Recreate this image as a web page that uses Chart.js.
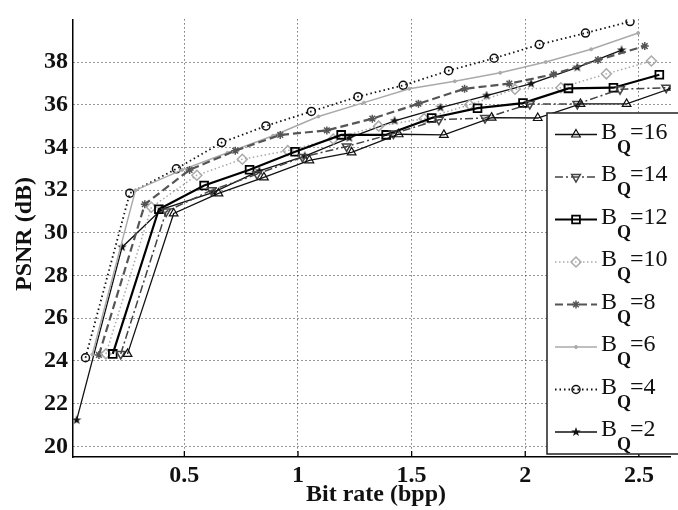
<!DOCTYPE html>
<html>
<head>
<meta charset="utf-8">
<script src="https://cdn.jsdelivr.net/npm/chart.js@4.4.0/dist/chart.umd.min.js"></script>
<style>
  html, body { margin: 0; padding: 0; background: #fff; }
  canvas { display: block; }
</style>
</head>
<body>
<canvas id="psnrChart" width="678" height="510"></canvas>
<script>
// ===== Data =====
const X_TICKS = [0.5, 1, 1.5, 2, 2.5];
const Y_TICKS = [20, 22, 24, 26, 28, 30, 32, 34, 36, 38];
const LEGEND_Q = ['16', '14', '12', '10', '8', '6', '4', '2'];

const bq16X = [0.25, 0.453, 0.65, 0.85, 1.05, 1.236, 1.443, 1.642, 1.852, 2.055, 2.243, 2.446, 2.65];
const bq16Y = [24.33, 30.91, 31.85, 32.6, 33.4, 33.77, 34.62, 34.59, 35.4, 35.38, 36.04, 36.04, 36.8];

const bq14X = [0.22, 0.42, 0.62, 0.82, 1.02, 1.214, 1.42, 1.62, 1.823, 2.02, 2.229, 2.417, 2.62];
const bq14Y = [24.33, 31.0, 32.0, 32.75, 33.55, 34.05, 34.65, 35.3, 35.38, 36.04, 36.04, 36.73, 36.8];

const bq12X = [0.185, 0.388, 0.587, 0.787, 0.987, 1.19, 1.388, 1.588, 1.79, 1.99, 2.19, 2.388, 2.59];
const bq12Y = [24.33, 31.11, 32.22, 32.96, 33.8, 34.59, 34.59, 35.38, 35.84, 36.08, 36.77, 36.8, 37.41];

const bq10X = [0.155, 0.355, 0.555, 0.755, 0.955, 1.155, 1.355, 1.555, 1.755, 1.955, 2.157, 2.357, 2.555];
const bq10Y = [24.33, 31.2, 32.7, 33.45, 33.85, 34.4, 35.0, 35.35, 36.0, 36.73, 36.8, 37.45, 38.05];

const bq8X = [0.124, 0.326, 0.523, 0.724, 0.922, 1.127, 1.327, 1.53, 1.733, 1.93, 2.125, 2.32, 2.526];
const bq8Y = [24.28, 31.34, 32.95, 33.85, 34.59, 34.8, 35.35, 36.05, 36.75, 36.99, 37.43, 38.1, 38.75];

const bq6X = [0.095, 0.285, 0.49, 0.69, 0.89, 1.09, 1.29, 1.49, 1.69, 1.89, 2.09, 2.29, 2.497];
const bq6Y = [24.3, 32.0, 32.95, 33.75, 34.55, 35.45, 36.1, 36.75, 37.1, 37.5, 38.0, 38.6, 39.36];

const bq4X = [0.065, 0.26, 0.465, 0.664, 0.859, 1.059, 1.264, 1.463, 1.663, 1.863, 2.062, 2.265, 2.461];
const bq4Y = [24.15, 31.86, 33.0, 34.23, 35.01, 35.69, 36.38, 36.91, 37.6, 38.18, 38.82, 39.36, 39.9];

const bq2X = [0.026, 0.226, 0.4, 0.627, 0.83, 1.03, 1.226, 1.425, 1.627, 1.83, 2.026, 2.229, 2.424];
const bq2Y = [21.23, 29.33, 31.1, 31.9, 32.9, 33.6, 34.45, 35.25, 35.87, 36.43, 36.99, 37.75, 38.56];

const SERIF = '"Liberation Serif", "Times New Roman", serif';

// filled five-point star for B_Q=2
function makeStar(size, color) {
    const c = document.createElement('canvas');
    c.width = c.height = size;
    const g = c.getContext('2d');
    g.fillStyle = color;
    g.beginPath();
    for (let i = 0; i < 10; i++) {
        const r = i % 2 ? size * 0.2 : size * 0.5;
        const a = -Math.PI / 2 + i * Math.PI / 5;
        g.lineTo(size / 2 + r * Math.cos(a), size / 2 + r * Math.sin(a));
    }
    g.closePath();
    g.fill();
    return c;
}

function toPoints(xs, ys) {
    return xs.map((x, i) => ({ x: x, y: ys[i] }));
}

const none = 'rgba(0,0,0,0)';
const series = [
    { xs: bq16X, ys: bq16Y, color: '#111', width: 1.3, dash: [], style: 'triangle', radius: 5, rot: 0, fill: none, pw: 1.2 },
    { xs: bq14X, ys: bq14Y, color: '#444', width: 1.5, dash: [8, 3, 2, 3], style: 'triangle', radius: 5, rot: 180, fill: none, pw: 1.5 },
    { xs: bq12X, ys: bq12Y, color: '#000', width: 2.2, dash: [], style: 'rect', radius: 5.5, rot: 0, fill: none, pw: 1.8 },
    { xs: bq10X, ys: bq10Y, color: '#aaa', width: 1.5, dash: [1.5, 2.5], style: 'rectRot', radius: 5, rot: 0, fill: none, pw: 1.5 },
    { xs: bq8X,  ys: bq8Y,  color: '#555', width: 2.2, dash: [8, 4], style: 'star', radius: 4, rot: 0, fill: none, pw: 1.5 },
    { xs: bq6X,  ys: bq6Y,  color: '#aaa', width: 1.5, dash: [], style: 'circle', radius: 1.5, rot: 0, fill: '#aaa', pw: 1 },
    { xs: bq4X,  ys: bq4Y,  color: '#111', width: 1.8, dash: [1.5, 3], style: 'circle', radius: 4, rot: 0, fill: none, pw: 1.5 },
    { xs: bq2X,  ys: bq2Y,  color: '#111', width: 1.3, dash: [], style: makeStar(10, '#111'), radius: 5, rot: 0, fill: '#111', pw: 1 }
];

const datasets = series.map((s, i) => ({
    label: 'B_Q=' + LEGEND_Q[i],
    data: toPoints(s.xs, s.ys),
    showLine: true,
    borderColor: s.color,
    borderWidth: s.width,
    borderDash: s.dash,
    pointStyle: s.style,
    pointRadius: s.radius,
    pointRotation: s.rot,
    pointBackgroundColor: s.fill,
    pointBorderColor: s.color,
    pointBorderWidth: s.pw,
    tension: 0
}));

// axis titles, inward ticks and the boxed legend
const decorPlugin = {
    id: 'decor',
    afterDraw(chart) {
        const ctx = chart.ctx;
        const area = chart.chartArea;
        const xs = chart.scales.x;

        ctx.save();
        ctx.strokeStyle = '#000';
        ctx.lineWidth = 1.3;
        ctx.setLineDash([]);
        X_TICKS.forEach(v => {
            const px = xs.getPixelForValue(v);
            ctx.beginPath();
            ctx.moveTo(px, area.bottom);
            ctx.lineTo(px, area.bottom - 6);
            ctx.stroke();
        });

        ctx.fillStyle = '#111';
        ctx.font = 'bold 24px ' + SERIF;
        ctx.textAlign = 'center';
        ctx.textBaseline = 'middle';
        ctx.fillText('Bit rate (bpp)', 376, 495);
        ctx.save();
        ctx.translate(25, 234);
        ctx.rotate(-Math.PI / 2);
        ctx.fillText('PSNR (dB)', 0, 0);
        ctx.restore();

        // legend box
        const boxL = 547, boxT = 113, boxB = 454;
        ctx.fillStyle = '#fff';
        ctx.fillRect(boxL, boxT, 700 - boxL, boxB - boxT);
        ctx.strokeStyle = '#222';
        ctx.lineWidth = 1.5;
        ctx.strokeRect(boxL, boxT, 700 - boxL, boxB - boxT);

        series.forEach((s, i) => {
            const y = 134.5 + i * 42.5;
            ctx.save();
            ctx.strokeStyle = s.color;
            ctx.lineWidth = s.width;
            ctx.setLineDash(s.dash);
            ctx.beginPath();
            ctx.moveTo(555, y);
            ctx.lineTo(597, y);
            ctx.stroke();
            ctx.setLineDash([]);
            ctx.fillStyle = s.fill;
            ctx.strokeStyle = s.color;
            ctx.lineWidth = s.pw;
            Chart.helpers.drawPoint(ctx, {
                pointStyle: s.style, radius: s.radius, rotation: s.rot, borderWidth: s.pw
            }, 576, y);
            ctx.restore();

            ctx.fillStyle = '#111';
            ctx.textAlign = 'left';
            ctx.textBaseline = 'alphabetic';
            ctx.font = '24px ' + SERIF;
            ctx.fillText('B', 601, y + 4);
            const bw = ctx.measureText('B').width;
            ctx.font = 'bold 18px ' + SERIF;
            ctx.fillText('Q', 601 + bw, y + 18);
            const qw = ctx.measureText('Q').width;
            ctx.font = '24px ' + SERIF;
            ctx.fillText('=' + LEGEND_Q[i], 601 + bw + qw - 1, y + 4);
        });
        ctx.restore();
    }
};

new Chart(document.getElementById('psnrChart').getContext('2d'), {
    type: 'scatter',
    data: { datasets: datasets },
    options: {
        responsive: false,
        animation: false,
        layout: { padding: { top: 10, right: 0, left: 0, bottom: 0 } },
        plugins: {
            legend: { display: false },
            tooltip: { enabled: false }
        },
        scales: {
            x: {
                type: 'linear',
                min: 0.01,
                max: 2.64,
                afterBuildTicks: scale => { scale.ticks = X_TICKS.map(v => ({ value: v })); },
                afterFit: scale => { scale.height = 53; },
                grid: { color: '#333', lineWidth: 1, drawTicks: false },
                border: { display: true, color: '#000', width: 1.5, dash: [1, 3] },
                ticks: {
                    color: '#111',
                    padding: 4,
                    maxRotation: 0,
                    font: { family: SERIF, size: 24, weight: 'bold' },
                    callback: v => String(v)
                }
            },
            y: {
                type: 'linear',
                min: 19.5,
                max: 40,
                afterBuildTicks: scale => { scale.ticks = Y_TICKS.map(v => ({ value: v })); },
                afterFit: scale => { scale.width = 73; },
                grid: { color: '#333', lineWidth: 1, drawTicks: false },
                border: { display: true, color: '#000', width: 1.5, dash: [1, 3] },
                ticks: {
                    color: '#111',
                    padding: 5,
                    font: { family: SERIF, size: 24, weight: 'bold' },
                    callback: v => String(v)
                }
            }
        }
    },
    plugins: [decorPlugin]
});
</script>
</body>
</html>
